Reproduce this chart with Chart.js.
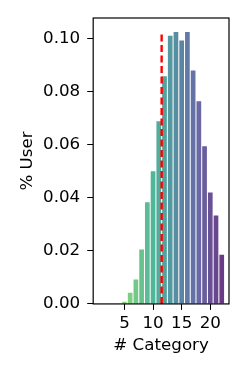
<!DOCTYPE html>
<html>
<head>
<meta charset="utf-8">
<script src="https://cdn.jsdelivr.net/npm/chart.js@4.4.1/dist/chart.umd.min.js"></script>
<style>
  html, body { margin: 0; padding: 0; background: #fff; }
  #wrap { width: 249px; height: 374px; }
</style>
</head>
<body>
<div id="wrap"><canvas id="chart"></canvas></div>
<script>
// data
const categories = [5, 6, 7, 8, 9, 10, 11, 12, 13, 14, 15, 16, 17, 18, 19, 20, 21, 22];
const userShare  = [0.0008, 0.0042, 0.0092, 0.0205, 0.0383, 0.0499, 0.0687, 0.0857, 0.1009,
                    0.1023, 0.0991, 0.1023, 0.0878, 0.0763, 0.0593, 0.0419, 0.0333, 0.0185];
const meanCategory = 11.5;
const xTicks = [5, 10, 15, 20];
const yTicks = [0, 0.02, 0.04, 0.06, 0.08, 0.10];

// desaturated viridis-like ramp, green -> purple
const stops = [
  [0.00, [138, 212, 124]],
  [0.30, [79, 181, 154]],
  [0.58, [90, 134, 164]],
  [0.76, [106, 105, 166]],
  [1.00, [105, 58, 134]]
];
function ramp(t) {
  for (let i = 1; i < stops.length; i++) {
    if (t <= stops[i][0]) {
      const [t0, c0] = stops[i - 1], [t1, c1] = stops[i];
      const f = (t - t0) / (t1 - t0);
      const c = c0.map((v, k) => Math.round(v + (c1[k] - v) * f));
      return `rgb(${c[0]},${c[1]},${c[2]})`;
    }
  }
  return 'rgb(105,58,134)';
}
const barColors = categories.map((_, i) => ramp(i / (categories.length - 1)));

const frame = {
  id: 'frame',
  afterDatasetsDraw(chart) {
    const { ctx, chartArea: a } = chart;
    ctx.save();
    ctx.strokeStyle = '#000';
    ctx.lineWidth = 1.2;
    ctx.strokeRect(a.left, a.top, a.right - a.left, a.bottom - a.top);
    ctx.restore();
  }
};

const font = { family: 'DejaVu Sans', size: 16.7 };
const titleFont = { family: 'DejaVu Sans', size: 16.7, lineHeight: 0.96 };

new Chart(document.getElementById('chart'), {
  type: 'bar',
  data: {
    datasets: [
      {
        type: 'line',
        data: [{ x: meanCategory, y: 0 }, { x: meanCategory, y: Math.max(...userShare) }],
        borderColor: '#ff0000',
        borderWidth: 2.4,
        borderDash: [7, 3.5],
        pointRadius: 0,
        order: 0
      },
      {
        data: categories.map((c, i) => ({ x: c, y: userShare[i] })),
        backgroundColor: barColors,
        barPercentage: 0.82,
        categoryPercentage: 1,
        order: 1
      }
    ]
  },
  options: {
    responsive: true,
    maintainAspectRatio: false,
    animation: false,
    layout: { padding: { left: 20, right: 20, top: 18, bottom: 20 } },
    plugins: { legend: { display: false }, tooltip: { enabled: false } },
    scales: {
      x: {
        type: 'linear',
        offset: false,
        min: -0.46,
        max: 23.27,
        afterBuildTicks: axis => { axis.ticks = xTicks.map(v => ({ value: v })); },
        ticks: { color: '#000', font, padding: 4, maxRotation: 0, includeBounds: false },
        grid: { drawOnChartArea: false, drawTicks: true, tickLength: 6, tickColor: '#000', offset: false },
        border: { display: false },
        title: { display: true, text: '# Category', color: '#000', font: titleFont, padding: { top: 0, bottom: 0 } }
      },
      y: {
        min: 0,
        max: 0.1076,
        afterBuildTicks: axis => { axis.ticks = yTicks.map(v => ({ value: v })); },
        ticks: { color: '#000', font, padding: 7, callback: v => v.toFixed(2) },
        grid: { drawOnChartArea: false, drawTicks: true, tickLength: 6, tickColor: '#000' },
        border: { display: false },
        title: { display: true, text: '% User', color: '#000', font: titleFont, padding: { top: 0, bottom: 0 } }
      }
    }
  },
  plugins: [frame]
});
</script>
</body>
</html>
